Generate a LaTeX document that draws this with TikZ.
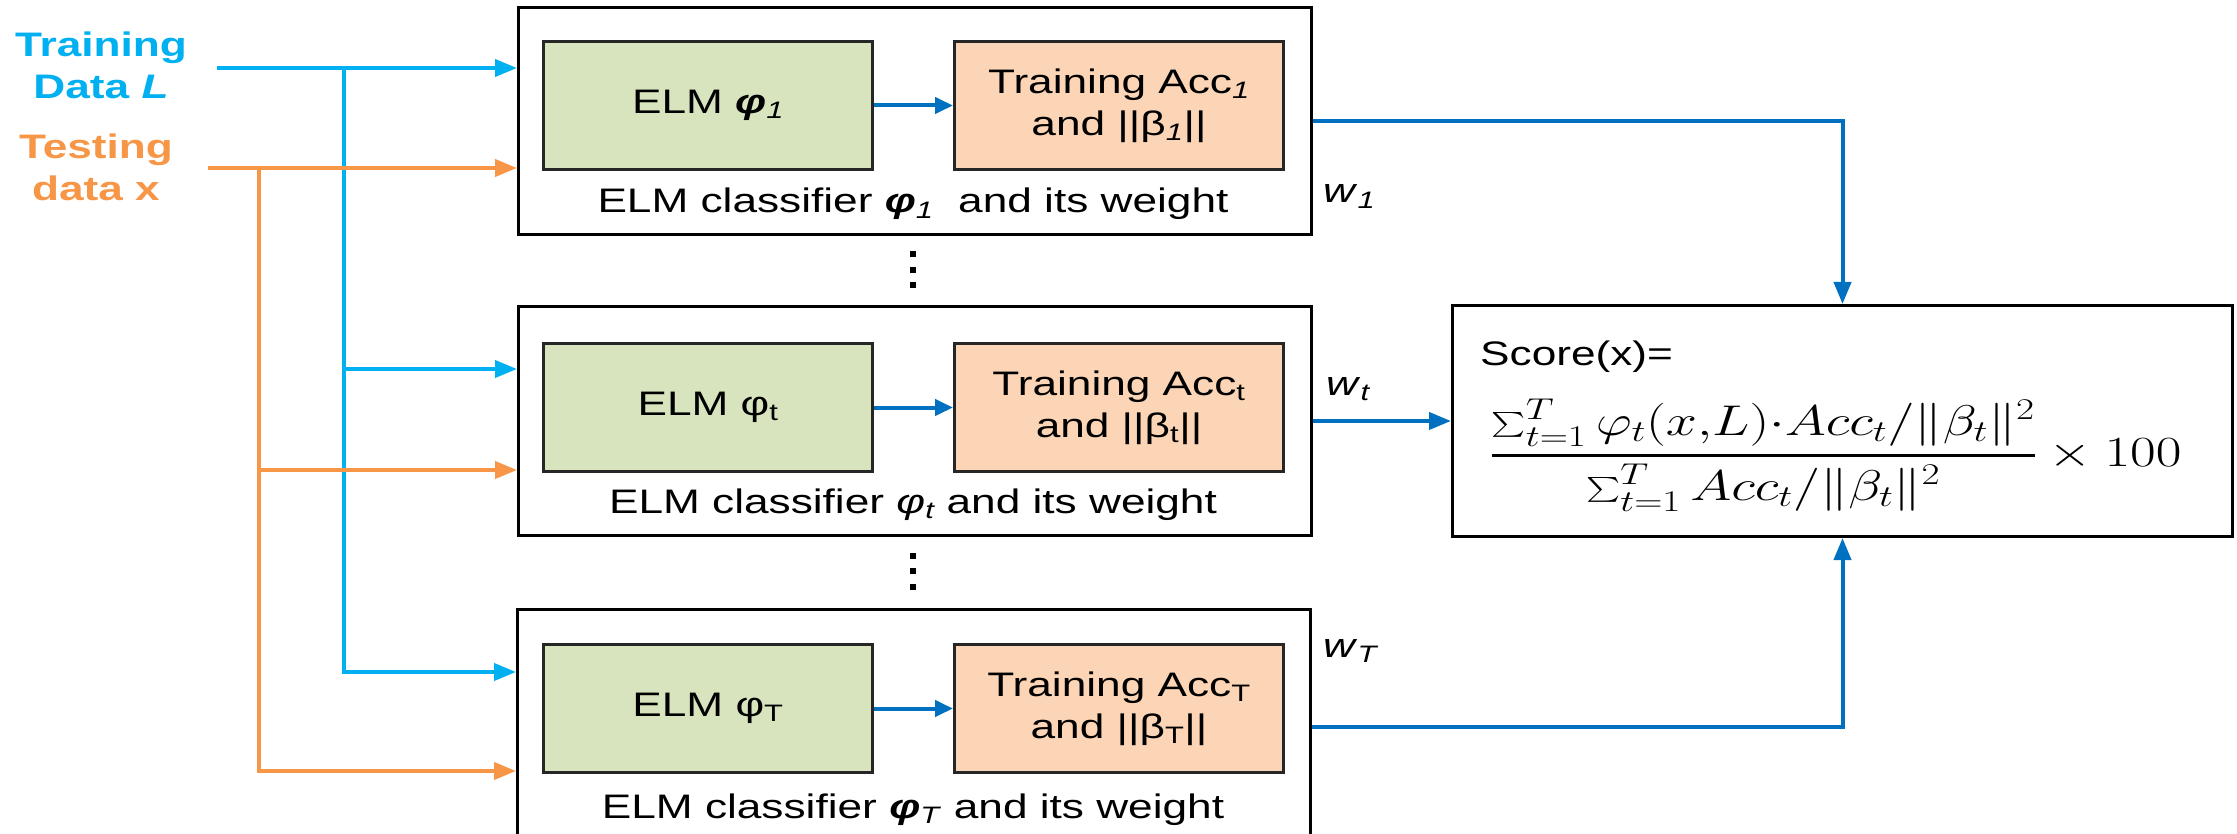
\RequirePackage{fix-cm}
\documentclass[tikz,border=0pt]{standalone}
\usepackage{amsmath}
\usepackage{exscale}
\usepackage[no-math]{fontspec}
\setmainfont{Liberation Sans}[FakeStretch=1.3]
\usepackage{graphicx}
\usetikzlibrary{arrows.meta}

\definecolor{inblue}{HTML}{00B0F0}
\definecolor{inorange}{HTML}{F79646}
\definecolor{outblue}{HTML}{0070C0}
\definecolor{elmgreen}{HTML}{D7E4BD}
\definecolor{accpeach}{HTML}{FBD5B5}

\tikzset{
  txt/.style={font=\fontsize{34}{42}\selectfont, inner sep=0pt},
  lbl/.style={font=\fontsize{34}{42}\selectfont\bfseries, inner sep=0pt, align=center},
  outerbox/.style={draw=black, line width=3pt, anchor=north west, inner sep=0pt,
                   minimum width=793pt},
  inbox/.style={draw=black!85, line width=3pt, anchor=north west, inner sep=0pt,
                minimum width=329pt, minimum height=128pt, txt, align=center},
  elm/.style={inbox, fill=elmgreen},
  acc/.style={inbox, fill=accpeach},
  feed/.style={line width=4pt, -{Triangle[length=22pt,width=17pt]}},
  train/.style={feed, draw=inblue},
  test/.style={feed, draw=inorange},
  flow/.style={line width=4pt, draw=outblue, -{Triangle[length=22pt,width=17pt]}},
  inner flow/.style={line width=4pt, draw=outblue, -{Triangle[length=18pt,width=16pt]}},
}

\begin{document}
\begin{tikzpicture}[x=1pt,y=-1pt]
\useasboundingbox (0,0) rectangle (2237,834);
\clip (0,0) rectangle (2237,834);

% input labels
\node[lbl, text=inblue] (trainlbl) at (101,65) {Training\\Data \textit{L}};
\node[lbl, text=inorange] (testlbl) at (96,167) {Testing\\data x};

% classifier groups
\node[outerbox, minimum height=227pt] (box1) at (517,6) {};
\node[outerbox, minimum height=229pt] (box2) at (517,305) {};
\node[outerbox, minimum height=235pt] (box3) at (516,608) {};

\node[elm] (elm1) at (542,40) {ELM \textbf{\textit{φ}}\textsubscript{\textit{1}}};
\node[acc] (acc1) at (953,40) {Training Acc\textsubscript{\textit{1}}\\and ||β\textsubscript{\textit{1}}||};
\node[elm] (elm2) at (542,342) {ELM φ\textsubscript{t}};
\node[acc] (acc2) at (953,342) {Training Acc\textsubscript{t}\\and ||β\textsubscript{t}||};
\node[elm] (elm3) at (542,643) {ELM φ\textsubscript{T}};
\node[acc] (acc3) at (953,643) {Training Acc\textsubscript{T}\\and ||β\textsubscript{T}||};

\node[txt, anchor=base] (cap1) at (913,213) {ELM classifier \textbf{\textit{φ}}\textsubscript{\textit{1}}\ \ and its weight};
\node[txt, anchor=base] (cap2) at (913,513) {ELM classifier \textit{φ\textsubscript{t}} and its weight};
\node[txt, anchor=base] (cap3) at (913,818) {ELM classifier \textbf{\textit{φ}}\textsubscript{\textit{T}} and its weight};

\draw[inner flow] (elm1) -- (acc1);
\draw[inner flow] (elm2) -- (acc2);
\draw[inner flow] (elm3) -- (acc3);

% vertical ellipses between the groups
\foreach \y in {254,270,285,556,571,587}
  \fill (910,\y-3) rectangle (916,\y+3);

% weights
\node[txt, anchor=base west] (w1) at (1323,203) {\textit{w}\textsubscript{\textit{1}}};
\node[txt, anchor=base west] (w2) at (1326,395) {\textit{w}\textsubscript{\textit{t}}};
\node[txt, anchor=base west] (w3) at (1323,657) {\textit{w}\textsubscript{\textit{T}}};

% ensemble score
\node[draw=black, line width=3pt, anchor=north west, inner sep=0pt,
      minimum width=780pt, minimum height=231pt] (score) at (1451,304) {};
\node[txt, anchor=base west] (scorelbl) at (1480,365) {Score(x)=};
\node[anchor=base west, inner sep=0pt] (formula) at (1490,466)
  {\fontsize{43}{50}\selectfont\scalebox{1.3}[1]{$\displaystyle
   \genfrac{}{}{2.6pt}{0}{\textstyle\sum_{t=1}^{T}\varphi_t(x{,}L){\cdot}Acc_t/\|\beta_t\|^2}
        {\textstyle\sum_{t=1}^{T}Acc_t/\|\beta_t\|^2}\times 100$}};

% training data feed
\coordinate (tin) at (217,68);
\coordinate (tj) at (344,68);
\coordinate (t2) at (344,369);
\coordinate (t3) at (344,672);
\draw[train] (tin) -- (tin -| box1.west);
\draw[train] (tj) |- (t3 -| box3.west);
\draw[train] (t2) -- (t2 -| box2.west);

% testing data feed
\coordinate (xin) at (208,168);
\coordinate (xj) at (259,168);
\coordinate (x2) at (259,470);
\coordinate (x3) at (259,771);
\draw[test] (xin) -- (xin -| box1.west);
\draw[test] (xj) |- (x3 -| box3.west);
\draw[test] (x2) -- (x2 -| box2.west);

% weighted outputs to the score
\draw[flow] (box1.east) -| (score.north);
\draw[flow] (box2.east) -- (score.west |- box2.east);
\draw[flow] (box3.east) -| (score.south);
\end{tikzpicture}
\end{document}
